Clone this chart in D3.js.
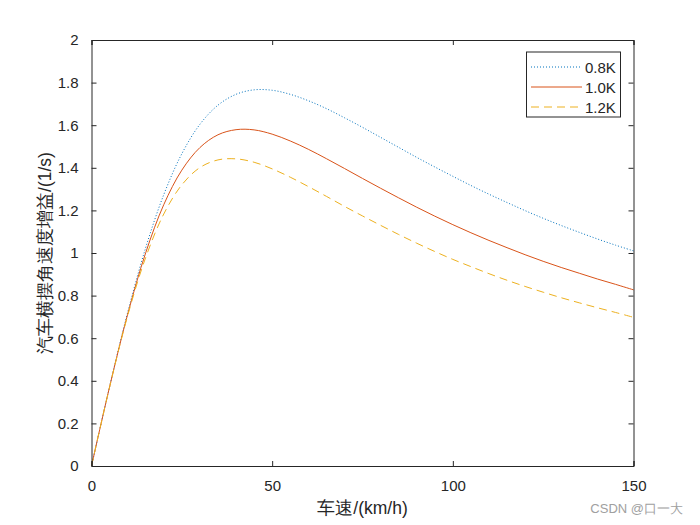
<!DOCTYPE html>
<html>
<head>
<meta charset="utf-8">
<script src="https://cdn.jsdelivr.net/npm/d3@7"></script>
<style>
  html, body { margin: 0; padding: 0; background: #fff; }
  svg { display: block; }
  text { font-family: "Liberation Sans", Arial, sans-serif; }
</style>
</head>
<body>
<svg id="chart" width="700" height="525"></svg>
<script>
// ---- data ----
const speeds = [0,5,10,15,20,25,30,35,40,45,50,55,60,65,70,75,80,85,90,95,100,105,110,115,120,125,130,135,140,145,150];
const gain08K = [0,0.372,0.720,1.025,1.274,1.466,1.604,1.694,1.745,1.766,1.764,1.745,1.715,1.678,1.635,1.590,1.543,1.496,1.449,1.404,1.360,1.317,1.276,1.237,1.199,1.163,1.129,1.097,1.066,1.037,1.010];
const gain10K = [0,0.371,0.712,1.001,1.227,1.389,1.495,1.555,1.579,1.578,1.558,1.526,1.487,1.443,1.397,1.350,1.304,1.259,1.215,1.173,1.133,1.095,1.059,1.025,0.992,0.961,0.932,0.905,0.878,0.853,0.827];
const gain12K = [0,0.370,0.705,0.979,1.183,1.320,1.401,1.437,1.442,1.426,1.395,1.356,1.312,1.266,1.219,1.174,1.130,1.087,1.046,1.007,0.970,0.936,0.903,0.872,0.843,0.816,0.790,0.766,0.743,0.721,0.698];
const seriesNames = ["0.8K", "1.0K", "1.2K"];
const xTicks = [0, 50, 100, 150];
const yTicks = [0, 0.2, 0.4, 0.6, 0.8, 1, 1.2, 1.4, 1.6, 1.8, 2];
const xLabel = "车速/(km/h)";
const yLabel = "汽车横摆角速度增益/(1/s)";
const watermark = "CSDN @口一大";

const colors = ["#0072BD", "#D95319", "#EDB120"];
const dashes = ["1,2", null, "8,5"];

// ---- layout ----
const svg = d3.select("#chart");
const L = 91.5, R = 633.5, T = 40, B = 466;
const x = d3.scaleLinear().domain([0, 150]).range([L, R]);
const y = d3.scaleLinear().domain([0, 2]).range([B, T]);
const tickLen = 5;
const fs = 15;

svg.append("rect").attr("x", L).attr("y", T).attr("width", R - L).attr("height", B - T)
  .attr("fill", "#fff").attr("stroke", "none");

// series
const data = [gain08K, gain10K, gain12K];
const line = d3.line().x((d, i) => x(speeds[i])).y(d => y(d)).curve(d3.curveCatmullRom.alpha(0.5));
data.forEach((s, k) => {
  svg.append("path").datum(s).attr("d", line)
    .attr("fill", "none").attr("stroke", colors[k]).attr("stroke-width", 1)
    .attr("stroke-dasharray", dashes[k]);
});

// axes, ticks inside, box on
const axisColor = "#262626";
const gx = svg.append("g").attr("transform", `translate(0,${B})`)
  .call(d3.axisBottom(x).tickValues(xTicks).tickSize(-tickLen).tickPadding(tickLen + 9).tickFormat(d3.format("d")));
const gxt = svg.append("g").attr("transform", `translate(0,${T})`)
  .call(d3.axisTop(x).tickValues(xTicks).tickSize(-tickLen).tickFormat(""));
const gy = svg.append("g").attr("transform", `translate(${L},0)`)
  .call(d3.axisLeft(y).tickValues(yTicks).tickSize(-tickLen).tickPadding(tickLen + 8).tickFormat(d => d3.format("~g")(d)));
const gyr = svg.append("g").attr("transform", `translate(${R},0)`)
  .call(d3.axisRight(y).tickValues(yTicks).tickSize(-tickLen).tickFormat(""));
[gx, gxt, gy, gyr].forEach(g => {
  g.select(".domain").attr("stroke", axisColor).attr("stroke-width", 1);
  g.selectAll(".tick line").attr("stroke", axisColor).attr("stroke-width", 1);
  g.selectAll(".tick text").attr("fill", axisColor).attr("font-size", fs)
    .attr("font-family", "'Liberation Sans', Arial, sans-serif");
});

// axis labels
svg.append("text").attr("x", (L + R) / 2).attr("y", 514).attr("text-anchor", "middle")
  .attr("font-size", 17.5).attr("fill", axisColor)
  .attr("font-family", "'Liberation Sans', 'Noto Sans CJK SC', sans-serif").text(xLabel);
svg.append("text").attr("transform", `translate(51,${(T + B) / 2}) rotate(-90)`)
  .attr("text-anchor", "middle").attr("font-size", 17.5).attr("fill", axisColor)
  .attr("font-family", "'Liberation Sans', 'Noto Sans CJK SC', sans-serif").text(yLabel);

// legend
const lg = svg.append("g");
lg.append("rect").attr("x", 526.5).attr("y", 52).attr("width", 94).attr("height", 65)
  .attr("fill", "#fff").attr("stroke", axisColor).attr("stroke-width", 1);
seriesNames.forEach((n, k) => {
  const yy = 67 + k * 20;
  lg.append("line").attr("x1", 531).attr("x2", 582).attr("y1", yy).attr("y2", yy)
    .attr("stroke", colors[k]).attr("stroke-width", 1).attr("stroke-dasharray", dashes[k]);
  lg.append("text").attr("x", 585).attr("y", yy + 5.5).attr("font-size", fs)
    .attr("fill", axisColor).text(n);
});

// watermark
svg.append("text").attr("x", 683).attr("y", 513).attr("text-anchor", "end")
  .attr("font-size", 13).attr("fill", "#a0a0a0")
  .attr("font-family", "'Liberation Sans', 'Noto Sans CJK SC', sans-serif").text(watermark);
</script>
</body>
</html>
